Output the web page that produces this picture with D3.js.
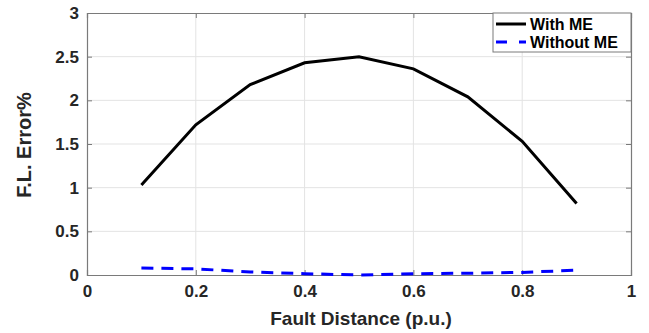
<!DOCTYPE html>
<html>
<head>
<meta charset="utf-8">
<script src="https://cdn.jsdelivr.net/npm/d3@7"></script>
<style>
  body { margin: 0; background: #fff; }
  text { font-family: "Liberation Sans", Arial, sans-serif; font-weight: bold; }
</style>
</head>
<body>
<div id="chart"></div>
<script>
const distances = [0.1, 0.2, 0.3, 0.4, 0.5, 0.6, 0.7, 0.8, 0.9];
const withME = [1.03, 1.72, 2.18, 2.43, 2.50, 2.36, 2.04, 1.53, 0.82];
const withoutME = [0.08, 0.07, 0.035, 0.015, 0.0, 0.015, 0.02, 0.03, 0.055];
const xTicks = [0, 0.2, 0.4, 0.6, 0.8, 1];
const yTicks = [0, 0.5, 1, 1.5, 2, 2.5, 3];
const seriesNames = ["With ME", "Without ME"];

const width = 649, height = 333;
const margin = { top: 13, right: 18, bottom: 58, left: 87 };
const iw = width - margin.left - margin.right;
const ih = height - margin.top - margin.bottom;

const svg = d3.select("#chart").append("svg")
  .attr("width", width)
  .attr("height", height);

const g = svg.append("g").attr("transform", `translate(${margin.left},${margin.top})`);

const x = d3.scaleLinear().domain([0, 1]).range([0, iw]);
const y = d3.scaleLinear().domain([0, 3]).range([ih, 0]);

// grid
g.append("g").selectAll("line")
  .data(xTicks.slice(1, -1))
  .join("line")
    .attr("x1", d => x(d)).attr("x2", d => x(d))
    .attr("y1", 0).attr("y2", ih)
    .attr("stroke", "#e3e3e3").attr("stroke-width", 1);
g.append("g").selectAll("line")
  .data(yTicks.slice(1, -1))
  .join("line")
    .attr("x1", 0).attr("x2", iw)
    .attr("y1", d => y(d)).attr("y2", d => y(d))
    .attr("stroke", "#e3e3e3").attr("stroke-width", 1);

// axes (ticks inward, MATLAB style)
const xAxis = g.append("g").attr("transform", `translate(0,${ih})`)
  .call(d3.axisBottom(x).tickValues(xTicks).tickSize(-5).tickPadding(10).tickFormat(d3.format("")));
const yAxis = g.append("g")
  .call(d3.axisLeft(y).tickValues(yTicks).tickSize(-5).tickPadding(8).tickFormat(d3.format("")));
const xAxisTop = g.append("g")
  .call(d3.axisTop(x).tickValues(xTicks).tickSize(-5).tickFormat(""));
const yAxisRight = g.append("g").attr("transform", `translate(${iw},0)`)
  .call(d3.axisRight(y).tickValues(yTicks).tickSize(-5).tickFormat(""));

[xAxis, yAxis, xAxisTop, yAxisRight].forEach(a => {
  a.select(".domain").attr("stroke", "#7a7a7a").attr("stroke-width", 1.2);
  a.selectAll(".tick line").attr("stroke", "#7a7a7a");
  a.selectAll(".tick text").attr("fill", "#262626").style("font-size", "17px").style("font-weight", "bold");
});

// axis labels
svg.append("text")
  .attr("x", margin.left + iw / 2 + 2)
  .attr("y", 325)
  .attr("text-anchor", "middle")
  .attr("fill", "#262626")
  .style("font-size", "19px")
  .text("Fault Distance (p.u.)");

svg.append("text")
  .attr("transform", `translate(31,${margin.top + ih / 2 + 1}) rotate(-90)`)
  .attr("text-anchor", "middle")
  .attr("fill", "#262626")
  .style("font-size", "20px")
  .text("F.L. Error%");

// lines
const line = d3.line().x((d, i) => x(distances[i])).y(d => y(d));

g.append("path")
  .datum(withME)
  .attr("d", line)
  .attr("fill", "none")
  .attr("stroke", "#000")
  .attr("stroke-width", 3);

g.append("path")
  .datum(withoutME)
  .attr("d", line)
  .attr("fill", "none")
  .attr("stroke", "#0000ff")
  .attr("stroke-width", 3)
  .attr("stroke-dasharray", "12,8");

// legend
const lg = g.append("g").attr("transform", `translate(${iw - 138},0)`);
lg.append("rect")
  .attr("width", 138).attr("height", 39)
  .attr("fill", "#fff")
  .attr("stroke", "#7a7a7a").attr("stroke-width", 1);
const items = [
  { name: seriesNames[0], color: "#000", dash: null },
  { name: seriesNames[1], color: "#0000ff", dash: "11,12" }
];
items.forEach((it, i) => {
  const yy = 11 + i * 18;
  lg.append("line")
    .attr("x1", 3).attr("x2", 33)
    .attr("y1", yy).attr("y2", yy)
    .attr("stroke", it.color).attr("stroke-width", 3)
    .attr("stroke-dasharray", it.dash);
  lg.append("text")
    .attr("x", 37).attr("y", yy + 6)
    .attr("fill", "#000")
    .style("font-size", "16px")
    .text(it.name);
});
</script>
</body>
</html>
